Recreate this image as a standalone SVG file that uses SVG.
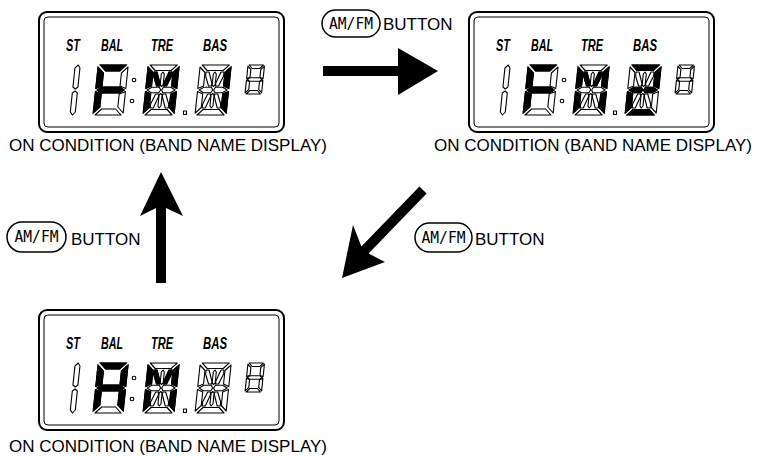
<svg xmlns="http://www.w3.org/2000/svg" xmlns:xlink="http://www.w3.org/1999/xlink" width="758" height="456" viewBox="0 0 758 456">
<style>
.bg{fill:#fff}
.fo{fill:none;stroke:#000;stroke-width:2}
.fi{fill:none;stroke:#000;stroke-width:1}
.lbl{font-family:"Liberation Sans",Arial,sans-serif;font-weight:bold;font-style:italic;font-size:16px;fill:#000}
.cap{font-family:"Liberation Sans",Arial,sans-serif;font-size:17px;fill:#000}
.ptx{font-family:"DejaVu Sans Mono",monospace;font-size:15px;fill:#000}
.pill{fill:#fff;stroke:#000;stroke-width:1.5}
.seg{fill:#fff;stroke:#000;stroke-width:1.1;stroke-linejoin:round}
.lit{fill:#000;stroke:#000;stroke-width:1.1}
.arrow{fill:#000;stroke:none}
</style>
<defs>
  <!-- 7 segment -->
  <polygon id="a7" points="2,-50 28,-50 22,-44 8,-44" vector-effect="non-scaling-stroke"/>
  <polygon id="b7" points="30,-48 30,-26.5 24,-29 24,-42" vector-effect="non-scaling-stroke"/>
  <polygon id="c7" points="30,-23.5 30,-2 24,-8 24,-21" vector-effect="non-scaling-stroke"/>
  <polygon id="d7" points="2,0 28,0 22,-6 8,-6" vector-effect="non-scaling-stroke"/>
  <polygon id="e7" points="0,-23.5 6,-21 6,-8 0,-2" vector-effect="non-scaling-stroke"/>
  <polygon id="f7" points="0,-48 6,-42 6,-29 0,-26.5" vector-effect="non-scaling-stroke"/>
  <polygon id="g7" points="1.5,-25 6,-28 24,-28 28.5,-25 24,-22 6,-22" vector-effect="non-scaling-stroke"/>
  <g id="dig7">
    <use xlink:href="#a7"/><use xlink:href="#b7"/><use xlink:href="#c7"/><use xlink:href="#d7"/>
    <use xlink:href="#e7"/><use xlink:href="#f7"/><use xlink:href="#g7"/>
  </g>
  <!-- 16 segment -->
  <polygon id="sA" points="2,-50 29,-50 23.5,-44.5 7.5,-44.5"/>
  <polygon id="sB" points="31,-48 31,-26.5 25.5,-29 25.5,-42.5"/>
  <polygon id="sC" points="31,-23.5 31,-2 25.5,-7.5 25.5,-21"/>
  <polygon id="sD" points="2,0 29,0 23.5,-5.5 7.5,-5.5"/>
  <polygon id="sE" points="0,-23.5 5.5,-21 5.5,-7.5 0,-2"/>
  <polygon id="sF" points="0,-48 5.5,-42.5 5.5,-29 0,-26.5"/>
  <polygon id="sG1" points="1.5,-25 6,-27.8 13.5,-27.8 15,-25 13.5,-22.2 6,-22.2"/>
  <polygon id="sG2" points="16,-25 17.5,-27.8 25,-27.8 29.5,-25 25,-22.2 17.5,-22.2"/>
  <polygon id="sI" points="15.5,-43 17,-41 17,-30 15.5,-28.5 14,-30 14,-41"/>
  <polygon id="sL" points="15.5,-21.5 17,-20 17,-9 15.5,-7 14,-9 14,-20"/>
  <polygon id="sH" points="6.5,-43 9.5,-43 13.5,-32 13.5,-29 10.5,-29 6.5,-39"/>
  <polygon id="sJ" points="24.5,-43 21.5,-43 17.5,-32 17.5,-29 20.5,-29 24.5,-39"/>
  <polygon id="sK" points="24.5,-7 21.5,-7 17.5,-18 17.5,-21 20.5,-21 24.5,-11"/>
  <polygon id="sM" points="6.5,-7 9.5,-7 13.5,-18 13.5,-21 10.5,-21 6.5,-11"/>
  <g id="dig16">
    <use xlink:href="#sA"/><use xlink:href="#sB"/><use xlink:href="#sC"/><use xlink:href="#sD"/>
    <use xlink:href="#sE"/><use xlink:href="#sF"/><use xlink:href="#sG1"/><use xlink:href="#sG2"/>
    <use xlink:href="#sI"/><use xlink:href="#sL"/><use xlink:href="#sH"/><use xlink:href="#sJ"/>
    <use xlink:href="#sK"/><use xlink:href="#sM"/>
  </g>
  <g id="M16">
    <use xlink:href="#sB"/><use xlink:href="#sC"/><use xlink:href="#sE"/><use xlink:href="#sF"/>
    <use xlink:href="#sH"/><use xlink:href="#sJ"/>
  </g>
  <!-- leading "1" digit -->
  <g id="dig1">
    <polygon points="0,-47 3,-50 5,-47 5,-28 2.5,-26 0,-28"/>
    <polygon points="0,-22 2.5,-24 5,-22 5,-3 2.5,0 0,-3"/>
  </g>
  <!-- whole display, all segments off -->
  <g id="display">
    <rect class="fo" x="39" y="12" width="245" height="120" rx="8"/>
    <rect class="fi" x="44" y="17" width="235" height="110" rx="4"/>
    <text class="lbl" x="66" y="51" textLength="14" lengthAdjust="spacingAndGlyphs">ST</text>
    <text class="lbl" x="101" y="51" textLength="22" lengthAdjust="spacingAndGlyphs">BAL</text>
    <text class="lbl" x="151" y="51" textLength="22" lengthAdjust="spacingAndGlyphs">TRE</text>
    <text class="lbl" x="203" y="51" textLength="24" lengthAdjust="spacingAndGlyphs">BAS</text>
    <use class="seg" xlink:href="#dig1" transform="translate(70,115) skewX(-6)"/>
    <use class="seg" xlink:href="#dig7" transform="translate(93,115) skewX(-6)"/>
    <circle class="seg" cx="134" cy="80" r="1.8"/>
    <circle class="seg" cx="132" cy="101" r="1.8"/>
    <use class="seg" xlink:href="#dig16" transform="translate(143,115) skewX(-6)"/>
    <rect class="seg" x="183.5" y="111" width="3" height="3.5"/>
    <use class="seg" xlink:href="#dig16" transform="translate(195,115) skewX(-6)"/>
    <use class="seg" xlink:href="#dig7" transform="translate(245,94) skewX(-6) scale(0.55,0.58)"/>
  </g>
</defs>

<rect class="bg" x="0" y="0" width="758" height="456"/>

<g id="display-fm1">
  <use xlink:href="#display"/>
  <g class="lit" transform="translate(93,115) skewX(-6)">
    <use xlink:href="#a7"/><use xlink:href="#f7"/><use xlink:href="#g7"/><use xlink:href="#e7"/>
  </g>
  <use class="lit" xlink:href="#M16" transform="translate(143,115) skewX(-6)"/>
  <g class="lit" transform="translate(195,115) skewX(-6)">
    <use xlink:href="#sB"/><use xlink:href="#sC"/>
  </g>
  <text class="cap" x="9" y="151">ON CONDITION (BAND NAME DISPLAY)</text>
</g>

<g id="display-fm2">
  <g transform="translate(430,0)">
    <use xlink:href="#display"/>
    <g class="lit" transform="translate(93,115) skewX(-6)">
      <use xlink:href="#a7"/><use xlink:href="#f7"/><use xlink:href="#g7"/><use xlink:href="#e7"/>
    </g>
    <use class="lit" xlink:href="#M16" transform="translate(143,115) skewX(-6)"/>
    <g class="lit" transform="translate(195,115) skewX(-6)">
      <use xlink:href="#sA"/><use xlink:href="#sB"/><use xlink:href="#sG1"/><use xlink:href="#sG2"/><use xlink:href="#sE"/><use xlink:href="#sD"/>
    </g>
  </g>
  <text class="cap" x="434" y="151">ON CONDITION (BAND NAME DISPLAY)</text>
</g>

<g id="display-am">
  <g transform="translate(0,298)">
    <use xlink:href="#display"/>
    <g class="lit" transform="translate(93,115) skewX(-6)">
      <use xlink:href="#a7"/><use xlink:href="#b7"/><use xlink:href="#c7"/><use xlink:href="#e7"/><use xlink:href="#f7"/><use xlink:href="#g7"/>
    </g>
    <use class="lit" xlink:href="#M16" transform="translate(143,115) skewX(-6)"/>
  </g>
  <text class="cap" x="9" y="452">ON CONDITION (BAND NAME DISPLAY)</text>
</g>

<g id="label-top">
  <rect class="pill" x="322" y="10" width="58" height="27" rx="13.5"/>
  <text class="ptx" x="351" y="29" text-anchor="middle" textLength="44" lengthAdjust="spacingAndGlyphs">AM/FM</text>
  <text class="cap" x="383" y="30">BUTTON</text>
</g>
<g id="label-right">
  <rect class="pill" x="415" y="223" width="57" height="29" rx="14.5"/>
  <text class="ptx" x="443.5" y="243" text-anchor="middle" textLength="44" lengthAdjust="spacingAndGlyphs">AM/FM</text>
  <text class="cap" x="475" y="245">BUTTON</text>
</g>
<g id="label-left">
  <rect class="pill" x="7" y="222" width="59" height="30" rx="15"/>
  <text class="ptx" x="36.5" y="242" text-anchor="middle" textLength="44" lengthAdjust="spacingAndGlyphs">AM/FM</text>
  <text class="cap" x="71" y="245">BUTTON</text>
</g>

<g id="connectors">
  <polygon class="arrow" points="323,66 398,66 398,48 438,71 398,95 398,76 323,76"/>
  <polygon class="arrow" points="342,278 353,225 361.4,246.5 419.4,186.5 426.6,193.5 368.6,253.5 385,262"/>
  <polygon class="arrow" points="161,172 183,216 166,208 166,283 156,283 156,208 140,216"/>
</g>
</svg>
